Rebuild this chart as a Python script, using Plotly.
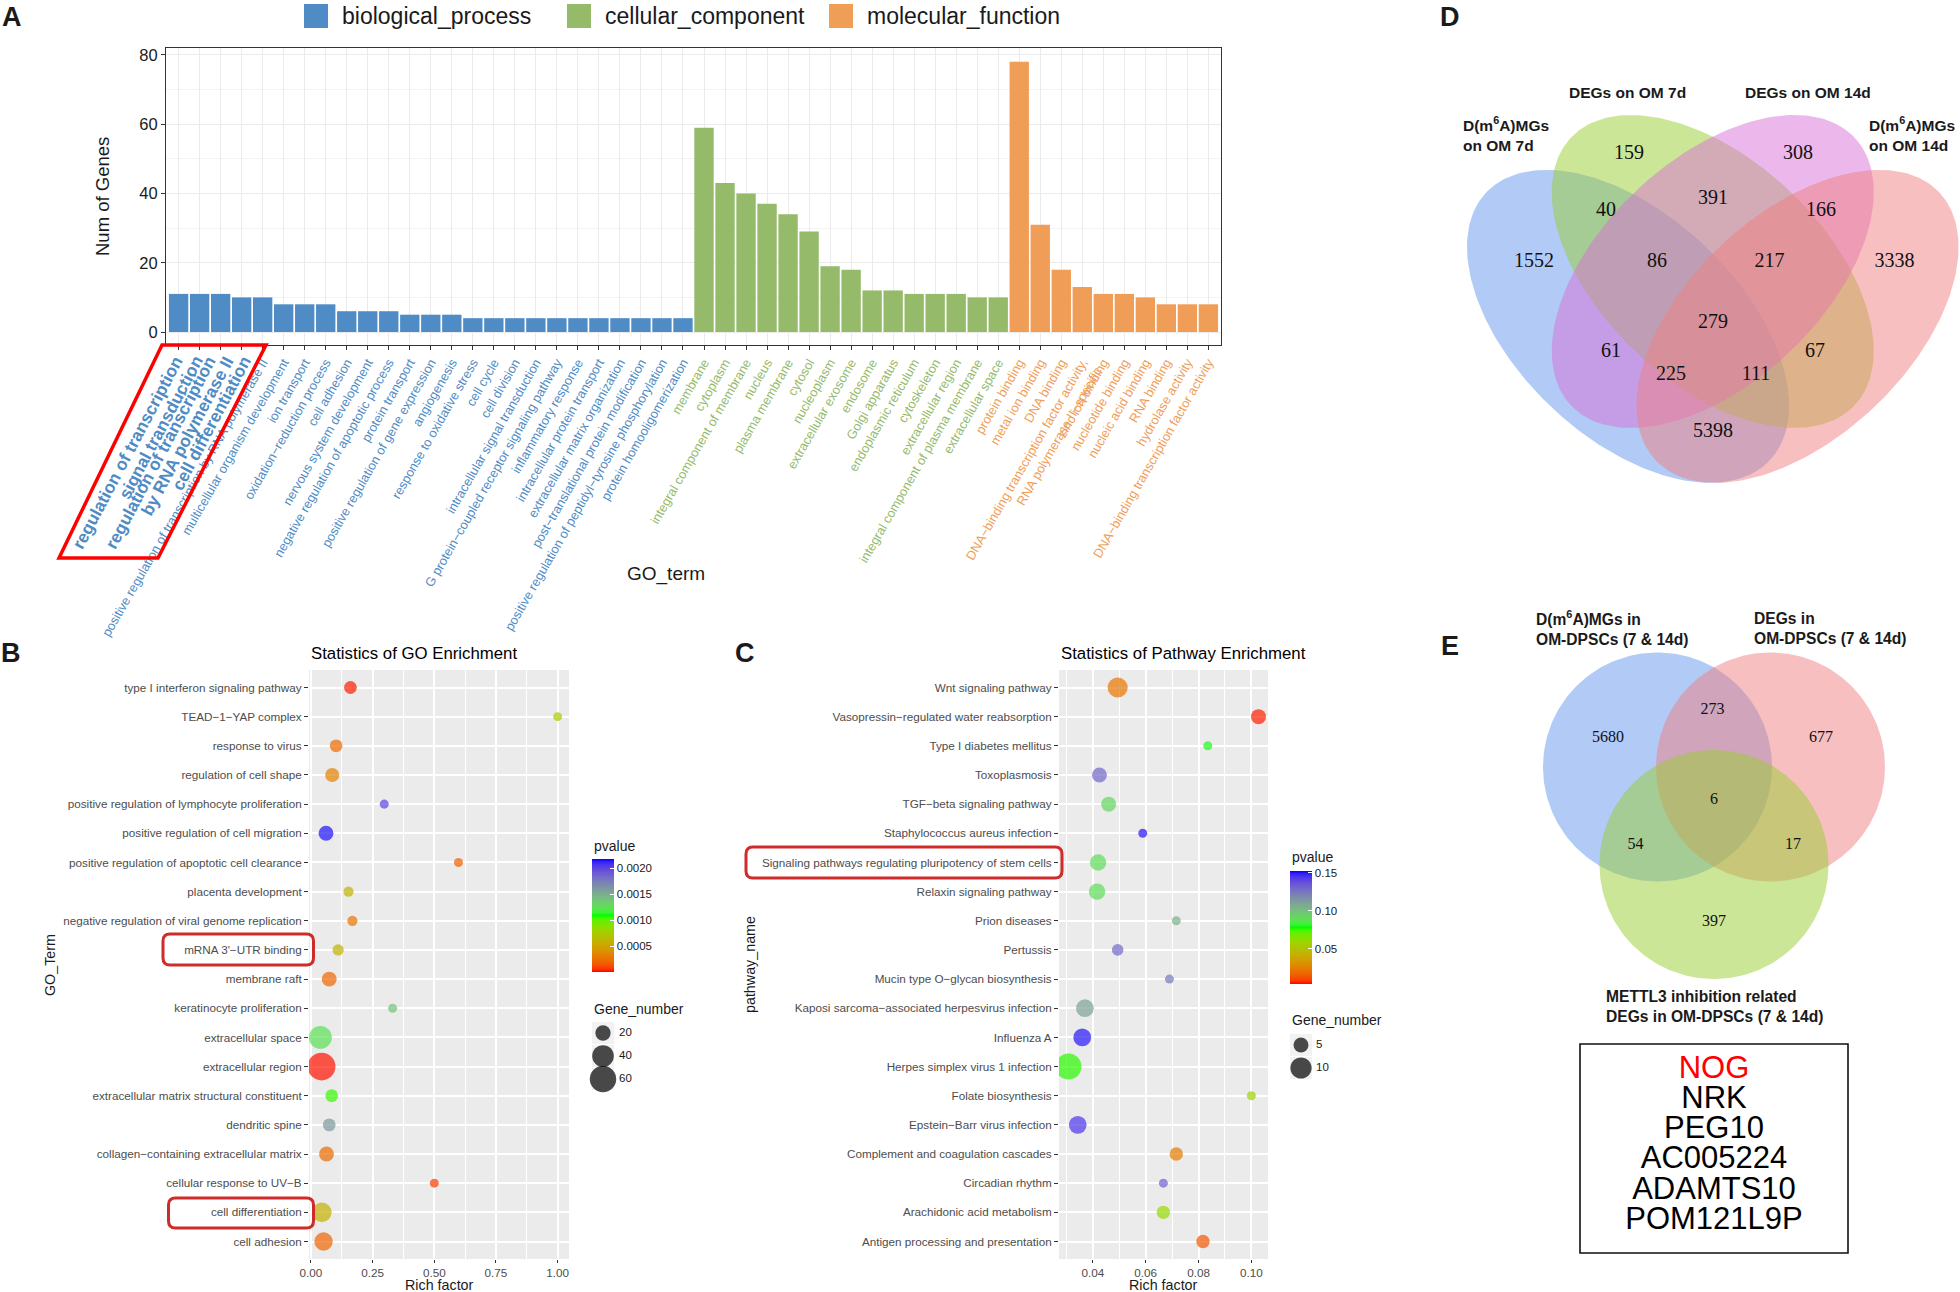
import numpy as np
import plotly.graph_objects as go

W, H = 1960, 1292
FONT = "Liberation Sans, Arial, Helvetica, sans-serif"
SERIF = "Liberation Serif, Times New Roman, serif"

# ---------------- Panel A : GO classification ----------------
ontologies = ["biological_process", "cellular_component", "molecular_function"]
ontology_colors = ["#4F8BC4", "#94BA6A", "#F09D57"]

bp_terms = [
    "regulation of transcription", "signal transduction",
    "regulation of transcription by RNA polymerase II", "cell differentiation",
    "positive regulation of transcription by RNA polymerase II",
    "multicellular organism development", "ion transport", "oxidation−reduction process",
    "cell adhesion", "nervous system development", "negative regulation of apoptotic process",
    "protein transport", "positive regulation of gene expression", "angiogenesis",
    "response to oxidative stress", "cell cycle", "cell division",
    "intracellular signal transduction", "G protein−coupled receptor signaling pathway",
    "inflammatory response", "intracellular protein transport",
    "extracellular matrix organization", "post−translational protein modification",
    "positive regulation of peptidyl−tyrosine phosphorylation", "protein homooligomerization"]
bp_counts = [11, 11, 11, 10, 10, 8, 8, 8, 6, 6, 6, 5, 5, 5, 4, 4, 4, 4, 4, 4, 4, 4, 4, 4, 4]

cc_terms = [
    "membrane", "cytoplasm", "integral component of membrane", "nucleus", "plasma membrane",
    "cytosol", "nucleoplasm", "extracellular exosome", "endosome", "Golgi apparatus",
    "endoplasmic reticulum", "cytoskeleton", "extracellular region",
    "integral component of plasma membrane", "extracellular space"]
cc_counts = [59, 43, 40, 37, 34, 29, 19, 18, 12, 12, 11, 11, 11, 10, 10]

mf_terms = [
    "protein binding", "metal ion binding", "DNA binding",
    "DNA−binding transcription factor activity, RNA polymerase II−specific",
    "zinc ion binding", "nucleotide binding", "nucleic acid binding", "RNA binding",
    "hydrolase activity", "DNA−binding transcription factor activity"]
mf_counts = [78, 31, 18, 13, 11, 11, 10, 8, 8, 8]

highlighted_terms = ["regulation of transcription", "signal transduction",
                     "regulation of transcription by RNA polymerase II", "cell differentiation"]
wrapped_labels = {
    "regulation of transcription by RNA polymerase II":
        ["regulation of transcription", "by RNA polymerase II"],
    "DNA−binding transcription factor activity, RNA polymerase II−specific":
        ["DNA−binding transcription factor activity,", "RNA polymerase II−specific"],
}

# ---------------- Panel B : GO enrichment ----------------
go_terms = [
    "type I interferon signaling pathway", "TEAD−1−YAP complex", "response to virus",
    "regulation of cell shape", "positive regulation of lymphocyte proliferation",
    "positive regulation of cell migration", "positive regulation of apoptotic cell clearance",
    "placenta development", "negative regulation of viral genome replication",
    "mRNA 3'−UTR binding", "membrane raft", "keratinocyte proliferation",
    "extracellular space", "extracellular region", "extracellular matrix structural constituent",
    "dendritic spine", "collagen−containing extracellular matrix", "cellular response to UV−B",
    "cell differentiation", "cell adhesion"]
go_rich = [0.160, 1.000, 0.102, 0.086, 0.297, 0.061, 0.598, 0.152, 0.168, 0.110,
           0.074, 0.331, 0.038, 0.043, 0.084, 0.074, 0.063, 0.500, 0.044, 0.051]
go_genes = [14, 2, 14, 17, 7, 19, 5, 9, 9, 11, 19, 5, 45, 66, 14, 14, 19, 5, 33, 29]
go_pvalue = [0.00003, 0.00075, 0.00022, 0.00032, 0.00200, 0.00215, 0.00018, 0.00060,
             0.00026, 0.00060, 0.00020, 0.00140, 0.00125, 0.00002, 0.00105, 0.00160,
             0.00022, 0.00008, 0.00058, 0.00020]
go_highlight = ["mRNA 3'−UTR binding", "cell differentiation"]

# ---------------- Panel C : pathway enrichment ----------------
kegg_terms = [
    "Wnt signaling pathway", "Vasopressin−regulated water reabsorption",
    "Type I diabetes mellitus", "Toxoplasmosis", "TGF−beta signaling pathway",
    "Staphylococcus aureus infection", "Signaling pathways regulating pluripotency of stem cells",
    "Relaxin signaling pathway", "Prion diseases", "Pertussis",
    "Mucin type O−glycan biosynthesis", "Kaposi sarcoma−associated herpesvirus infection",
    "Influenza A", "Herpes simplex virus 1 infection", "Folate biosynthesis",
    "Epstein−Barr virus infection", "Complement and coagulation cascades",
    "Circadian rhythm", "Arachidonic acid metabolism", "Antigen processing and presentation"]
kegg_rich = [0.0494, 0.1027, 0.0835, 0.0425, 0.0460, 0.0589, 0.0420, 0.0416, 0.0716, 0.0494,
             0.0690, 0.0370, 0.0360, 0.0308, 0.1000, 0.0343, 0.0716, 0.0667, 0.0667, 0.0817]
kegg_genes = [9, 5, 1, 5, 5, 1, 6, 6, 1, 3, 1, 7, 7, 15, 1, 7, 4, 1, 4, 4]
kegg_pvalue = [0.022, 0.006, 0.080, 0.130, 0.092, 0.150, 0.090, 0.090, 0.105, 0.130,
               0.125, 0.110, 0.150, 0.076, 0.058, 0.145, 0.024, 0.132, 0.060, 0.014]
kegg_highlight = ["Signaling pathways regulating pluripotency of stem cells"]

# ---------------- Panel D : 4-set Venn ----------------
venn4_sets = ["D(m<sup>6</sup>A)MGs<br>on OM 7d", "DEGs on OM 7d", "DEGs on OM 14d",
              "D(m<sup>6</sup>A)MGs<br>on OM 14d"]
venn4_counts = [1552, 159, 308, 3338, 40, 391, 166, 86, 217, 279, 61, 67, 225, 111, 5398]

# ---------------- Panel E : 3-set Venn + gene list ----------------
venn3_sets = ["D(m<sup>6</sup>A)MGs in<br>OM-DPSCs (7 & 14d)", "DEGs in<br>OM-DPSCs (7 & 14d)",
              "METTL3 inhibition related<br>DEGs in OM-DPSCs (7 & 14d)"]
venn3_counts = [5680, 273, 677, 6, 54, 17, 397]
common_genes = ["NOG", "NRK", "PEG10", "AC005224", "ADAMTS10", "POM121L9P"]
key_gene = "NOG"

# ======================= layout geometry (pixels) =======================
A_BOX = (166, 48, 1221, 345)          # x0, y0, x1, y1
B_BOX = (309, 670, 569, 1259)
C_BOX = (1059, 670, 1268, 1259)
bold_line_anchor_x = [190, 209, 223, 240, 258]   # end points of the emphasised (bold) label lines
bold_line_top = 350

venn4_fill = ["rgba(100,149,237,0.5)", "rgba(154,205,50,0.5)",
              "rgba(218,112,214,0.5)", "rgba(240,128,128,0.5)"]
venn4_geom = [((0.35, 0.47), -45), ((0.50, 0.57), -45), ((0.50, 0.57), 45), ((0.65, 0.47), 45)]
venn4_label_pos = [(1534, 262), (1629, 154), (1798, 154), (1894.5, 262), (1606, 211),
                   (1713, 199), (1821, 211), (1657, 262), (1769.5, 262), (1713, 323),
                   (1611, 352), (1815, 352), (1671, 375), (1756, 375), (1713, 432)]
venn4_set_pos = [(1461, 134, "left"), (1627, 92, "center"), (1808, 92, "center"), (1957, 134, "right")]

venn3_fill = ["rgba(100,149,237,0.5)", "rgba(240,128,128,0.5)", "rgba(154,205,50,0.5)"]
venn3_centers = [(1657.5, 767), (1770.5, 767), (1714, 864.5)]
venn3_r = 114.5
venn3_label_pos = [(1608, 738), (1712.5, 709.5), (1821, 738), (1714, 800),
                   (1635.5, 845), (1793, 845), (1714, 922)]
venn3_set_pos = [(1534, 628), (1752, 628), (1604, 1006)]
gene_y = [1070, 1100, 1130, 1160, 1191, 1221]


def dx(x0, x1):
    return [x0 / W, x1 / W]


def dy(y0, y1):
    return [1 - y1 / H, 1 - y0 / H]


def to_lab(rgb):
    c = np.array(rgb, dtype=float) / 255
    lin = np.where(c <= 0.04045, c / 12.92, ((c + 0.055) / 1.055) ** 2.4)
    M = np.array([[0.4124564, 0.3575761, 0.1804375],
                  [0.2126729, 0.7151522, 0.0721750],
                  [0.0193339, 0.1191920, 0.9503041]])
    xyz = M @ lin / np.array([0.95047, 1.0, 1.08883])
    f = np.where(xyz > 0.008856, np.cbrt(xyz), 7.787 * xyz + 16 / 116)
    return np.array([116 * f[1] - 16, 500 * (f[0] - f[1]), 200 * (f[1] - f[2])])


def from_lab(lab):
    L, a, b = lab
    fy = (L + 16) / 116
    fx = fy + a / 500
    fz = fy - b / 200
    f = np.array([fx, fy, fz])
    xyz = np.where(f ** 3 > 0.008856, f ** 3, (f - 16 / 116) / 7.787) * np.array([0.95047, 1.0, 1.08883])
    Mi = np.array([[3.2404542, -1.5371385, -0.4985314],
                   [-0.9692660, 1.8760108, 0.0415560],
                   [0.0556434, -0.2040259, 1.0572252]])
    lin = np.clip(Mi @ xyz, 0, 1)
    c = np.where(lin <= 0.0031308, 12.92 * lin, 1.055 * lin ** (1 / 2.4) - 0.055)
    return tuple(int(round(v)) for v in np.clip(c, 0, 1) * 255)


def lab_ramp(anchors, n=41):
    labs = [to_lab(a) for a in anchors]
    out = []
    for s in np.linspace(0, 1, n):
        seg = min(int(s * (len(labs) - 1)), len(labs) - 2)
        t = s * (len(labs) - 1) - seg
        r, g, b = from_lab(labs[seg] * (1 - t) + labs[seg + 1] * t)
        out.append([float(s), f"rgb({r},{g},{b})"])
    return out


PSCALE = lab_ramp([(255, 0, 0), (0, 255, 0), (0, 0, 255)])

fig = go.Figure()

# ---------------- Panel A traces ----------------
term_groups = [bp_terms, cc_terms, mf_terms]
count_groups = [bp_counts, cc_counts, mf_counts]
for name, col, terms, counts in zip(ontologies, ontology_colors, term_groups, count_groups):
    fig.add_trace(go.Bar(x=terms, y=counts, name=name, marker=dict(color=col, line=dict(width=0)),
                         xaxis="x", yaxis="y", showlegend=False, hoverinfo="x+y"))

all_terms = bp_terms + cc_terms + mf_terms
ticktext = []
bold_lines = []
for terms, col in zip(term_groups, ontology_colors):
    for t in terms:
        lines = wrapped_labels.get(t, [t])
        if t in highlighted_terms:
            ticktext.append("")            # drawn as emphasised annotations below
            bold_lines.extend((l, col) for l in lines)
        else:
            ticktext.append("<br>".join(f"<span style='color:{col}'>{l}</span>" for l in lines))

# ---------------- Panel B / C traces ----------------
B_SIZEREF = 0.171
C_SIZEREF = 0.0444
fig.add_trace(go.Scatter(
    x=go_rich, y=go_terms, mode="markers", xaxis="x2", yaxis="y2", showlegend=False,
    marker=dict(size=go_genes, sizemode="area", sizeref=B_SIZEREF, sizemin=4.5,
                color=go_pvalue, colorscale=PSCALE, cmin=0.0, cmax=0.00218, line=dict(width=0),
                colorbar=dict(x=592 / W, xanchor="left", y=1 - 859 / H, yanchor="top",
                              len=113, lenmode="pixels", thickness=22, outlinewidth=0,
                              xpad=0, ypad=0, ticks="inside", tickcolor="white", ticklen=4,
                              tickvals=[0.0005, 0.0010, 0.0015, 0.0020],
                              ticktext=["0.0005", "0.0010", "0.0015", "0.0020"],
                              tickfont=dict(size=11.5, color="#1a1a1a", family=FONT)))))

fig.add_trace(go.Scatter(
    x=kegg_rich, y=kegg_terms, mode="markers", xaxis="x3", yaxis="y3", showlegend=False,
    marker=dict(size=kegg_genes, sizemode="area", sizeref=C_SIZEREF, sizemin=4.5,
                color=kegg_pvalue, colorscale=PSCALE, cmin=0.0037, cmax=0.1526, line=dict(width=0),
                colorbar=dict(x=1290 / W, xanchor="left", y=1 - 871 / H, yanchor="top",
                              len=113, lenmode="pixels", thickness=22, outlinewidth=0,
                              xpad=0, ypad=0, ticks="inside", tickcolor="white", ticklen=4,
                              tickvals=[0.05, 0.10, 0.15], ticktext=["0.05", "0.10", "0.15"],
                              tickfont=dict(size=11.5, color="#1a1a1a", family=FONT)))))

# size legends (legend break values)
b_breaks = [20, 40, 60]
b_key_y = [1033, 1056, 1079]
c_breaks = [5, 10]
c_key_y = [1045, 1068]
fig.add_trace(go.Scatter(x=[603] * 3, y=b_key_y, mode="markers", xaxis="x6", yaxis="y6",
                         showlegend=False, hoverinfo="skip",
                         marker=dict(size=b_breaks, sizemode="area", sizeref=B_SIZEREF,
                                     color="black", line=dict(width=0))))
fig.add_trace(go.Scatter(x=[619] * 3, y=b_key_y, mode="text", text=[str(v) for v in b_breaks],
                         textposition="middle right", xaxis="x6", yaxis="y6", showlegend=False,
                         textfont=dict(size=11.5, color="#1a1a1a", family=FONT), hoverinfo="skip"))
fig.add_trace(go.Scatter(x=[1301] * 2, y=c_key_y, mode="markers", xaxis="x7", yaxis="y7",
                         showlegend=False, hoverinfo="skip",
                         marker=dict(size=c_breaks, sizemode="area", sizeref=C_SIZEREF,
                                     color="black", line=dict(width=0))))
fig.add_trace(go.Scatter(x=[1316] * 2, y=c_key_y, mode="text", text=[str(v) for v in c_breaks],
                         textposition="middle right", xaxis="x7", yaxis="y7", showlegend=False,
                         textfont=dict(size=11.5, color="#1a1a1a", family=FONT), hoverinfo="skip"))

# ---------------- Panel D : ellipses ----------------
def quad_to_px(ux, uy):
    return 1467 + (ux - 0.065) * 565, 115 + (0.855 - uy) * 549


phi = np.linspace(0, 2 * np.pi, 240)
for (c, ang), fill in zip(venn4_geom, venn4_fill):
    th = np.deg2rad(ang)
    ex = 0.35 * np.cos(phi)
    ey = 0.20 * np.sin(phi)
    ux = c[0] + ex * np.cos(th) - ey * np.sin(th)
    uy = c[1] + ex * np.sin(th) + ey * np.cos(th)
    px, py = quad_to_px(ux, uy)
    fig.add_trace(go.Scatter(x=px, y=py, mode="lines", fill="toself", fillcolor=fill,
                             line=dict(width=0), xaxis="x4", yaxis="y4", showlegend=False,
                             hoverinfo="skip"))
fig.add_trace(go.Scatter(x=[p[0] for p in venn4_label_pos], y=[p[1] for p in venn4_label_pos],
                         text=[str(v) for v in venn4_counts], mode="text", xaxis="x4", yaxis="y4",
                         showlegend=False, textfont=dict(family=SERIF, size=20, color="#111111")))

# ---------------- Panel E : circles ----------------
for (cx, cy), fill in zip(venn3_centers, venn3_fill):
    fig.add_trace(go.Scatter(x=cx + venn3_r * np.cos(phi), y=cy + venn3_r * np.sin(phi),
                             mode="lines", fill="toself", fillcolor=fill, line=dict(width=0),
                             xaxis="x5", yaxis="y5", showlegend=False, hoverinfo="skip"))
fig.add_trace(go.Scatter(x=[p[0] for p in venn3_label_pos], y=[p[1] for p in venn3_label_pos],
                         text=[str(v) for v in venn3_counts], mode="text", xaxis="x5", yaxis="y5",
                         showlegend=False, textfont=dict(family=SERIF, size=16, color="#111111")))
fig.add_trace(go.Scatter(x=[1714] * len(common_genes), y=gene_y, text=common_genes, mode="text",
                         xaxis="x5", yaxis="y5", showlegend=False,
                         textfont=dict(family=FONT, size=31,
                                       color=["#FF0000" if g == key_gene else "#000000"
                                              for g in common_genes])))

# ======================= axes =======================
hidden = dict(visible=False, showgrid=False, zeroline=False, fixedrange=True)


def pix_axes(n, x0, x1, y0, y1):
    return {
        f"xaxis{n}": dict(domain=dx(x0, x1), range=[x0, x1], anchor=f"y{n}", **hidden),
        f"yaxis{n}": dict(domain=dy(y0, y1), range=[y1, y0], anchor=f"x{n}", **hidden),
    }


tick_common = dict(ticks="outside", ticklen=4, tickwidth=1, tickcolor="#333333", zeroline=False)
tick_small = dict(ticks="outside", ticklen=3, tickwidth=1, tickcolor="#333333", zeroline=False)

layout = dict(
    width=W, height=H, template="none", margin=dict(l=0, r=0, t=0, b=0, pad=0),
    paper_bgcolor="white", plot_bgcolor="rgba(0,0,0,0)", showlegend=False,
    font=dict(family=FONT, color="#1a1a1a"), barmode="overlay", bargap=0.08,
    xaxis=dict(domain=dx(A_BOX[0], A_BOX[2]), anchor="y", type="category",
               categoryorder="array", categoryarray=all_terms, tickvals=all_terms, ticktext=ticktext,
               tickangle=-60, tickfont=dict(size=12.8), range=[-0.6, len(all_terms) - 0.4],
               showline=True, mirror=True, linecolor="#333333", linewidth=1.2,
               showgrid=True, gridcolor="#EBEBEB", gridwidth=1.2, automargin=False, **tick_common),
    yaxis=dict(domain=dy(A_BOX[1], A_BOX[3]), anchor="x", range=[-3.75, 82.0],
               tickvals=[0, 20, 40, 60, 80], tickfont=dict(size=16.5, color="#1a1a1a"),
               showline=True, mirror=True, linecolor="#333333", linewidth=1.2,
               showgrid=True, gridcolor="#EBEBEB", gridwidth=1.2,
               minor=dict(tick0=0, dtick=10, showgrid=True, gridcolor="#F3F3F3", gridwidth=0.8),
               automargin=False, **tick_common),
    xaxis2=dict(domain=dx(B_BOX[0], B_BOX[2]), anchor="y2", range=[-0.008, 1.046],
                tickvals=[0, 0.25, 0.5, 0.75, 1.0], ticktext=["0.00", "0.25", "0.50", "0.75", "1.00"],
                tickfont=dict(size=11.7, color="#4D4D4D"), showgrid=True, gridcolor="white",
                gridwidth=1.6, showline=False,
                minor=dict(tick0=0.125, dtick=0.25, showgrid=True, gridcolor="white", gridwidth=0.7),
                automargin=False, **tick_small),
    yaxis2=dict(domain=dy(B_BOX[1], B_BOX[3]), anchor="x2", type="category",
                categoryorder="array", categoryarray=list(reversed(go_terms)),
                range=[-0.6, len(go_terms) - 0.4], tickfont=dict(size=11.7, color="#4D4D4D"),
                showgrid=True, gridcolor="white", gridwidth=1.6, showline=False,
                automargin=False, **tick_common),
    xaxis3=dict(domain=dx(C_BOX[0], C_BOX[2]), anchor="y3", range=[0.0272, 0.1063],
                tickvals=[0.04, 0.06, 0.08, 0.10], ticktext=["0.04", "0.06", "0.08", "0.10"],
                tickfont=dict(size=11.7, color="#4D4D4D"), showgrid=True, gridcolor="white",
                gridwidth=1.6, showline=False,
                minor=dict(tick0=0.03, dtick=0.02, showgrid=True, gridcolor="white", gridwidth=0.7),
                automargin=False, **tick_small),
    yaxis3=dict(domain=dy(C_BOX[1], C_BOX[3]), anchor="x3", type="category",
                categoryorder="array", categoryarray=list(reversed(kegg_terms)),
                range=[-0.6, len(kegg_terms) - 0.4], tickfont=dict(size=11.7, color="#4D4D4D"),
                showgrid=True, gridcolor="white", gridwidth=1.6, showline=False,
                automargin=False, **tick_common),
)
layout.update(pix_axes(4, 1430, 1960, 60, 500))
layout.update(pix_axes(5, 1500, 1960, 590, 1292))
layout.update(pix_axes(6, 570, 700, 1015, 1095))
layout.update(pix_axes(7, 1280, 1400, 1025, 1090))
layout.update(pix_axes(8, 0, W, 0, H))
fig.update_layout(**layout)

# ======================= shapes & annotations =======================
shapes = []
ann = []


def txt(x, y, text, size, xanchor="center", yanchor="middle", color="#1a1a1a", angle=0,
        family=FONT, align="center"):
    ann.append(dict(x=x, y=y, xref="x8", yref="y8", text=text, showarrow=False,
                    xanchor=xanchor, yanchor=yanchor, textangle=angle, align=align,
                    font=dict(size=size, color=color, family=family)))


# emphasised GO terms on panel A (bold, larger, evenly spaced lines)
for (line, col), ax in zip(bold_lines, bold_line_anchor_x):
    txt(ax, bold_line_top, f"<b>{line}</b>", 17.3, xanchor="right", yanchor="top", color=col,
        angle=-62)

# panel grey backgrounds for B, C
for n in (2, 3):
    shapes.append(dict(type="rect", xref=f"x{n} domain", yref=f"y{n} domain", x0=0, x1=1, y0=0, y1=1,
                       fillcolor="#EBEBEB", line=dict(width=0), layer="below"))

# size-legend key backgrounds (drawn in the legend's own axes, under the key markers)
for ky in b_key_y:
    shapes.append(dict(type="rect", xref="x6", yref="y6", x0=592, x1=614, y0=ky - 11, y1=ky + 11,
                       fillcolor="#F2F2F2", line=dict(width=0), layer="below"))
for ky in c_key_y:
    shapes.append(dict(type="rect", xref="x7", yref="y7", x0=1290, x1=1312, y0=ky - 11, y1=ky + 11,
                       fillcolor="#F2F2F2", line=dict(width=0), layer="below"))

# Panel A legend (custom squares)
leg_x = [304, 567, 829]
for lx, name, col in zip(leg_x, ontologies, ontology_colors):
    shapes.append(dict(type="rect", xref="x8", yref="y8", x0=lx, x1=lx + 24, y0=4, y1=28,
                       fillcolor=col, line=dict(width=0)))
    txt(lx + 36, 16, name, 23, xanchor="left")

# panel letters
for L, x, y in [("A", 12, 17), ("B", 11, 653), ("C", 745, 653), ("D", 1450, 17), ("E", 1450, 646)]:
    txt(x, y, f"<b>{L}</b>", 27)

# axis titles
txt(102, 197, "Num of Genes", 18.5, angle=-90)
txt(666, 574, "GO_term", 19)
txt(B_BOX[0], 653, "Statistics of GO Enrichment", 16.8, xanchor="left", color="#000000")
txt(C_BOX[0], 653, "Statistics of Pathway Enrichment", 16.8, xanchor="left", color="#000000")
txt(50, 965, "GO_Term", 14.3, angle=-90)
txt(750, 965, "pathway_name", 14.3, angle=-90)
txt((B_BOX[0] + B_BOX[2]) / 2, 1285, "Rich factor", 14.3)
txt((C_BOX[0] + C_BOX[2]) / 2, 1285, "Rich factor", 14.3)

# legend titles
txt(592, 846, "pvalue", 14, xanchor="left")
txt(592, 1009, "Gene_number", 14, xanchor="left")
txt(1290, 857, "pvalue", 14, xanchor="left")
txt(1290, 1020, "Gene_number", 14, xanchor="left")


# highlight boxes
def rrect(x0, y0, x1, y1, r):
    return (f"M{x0 + r},{y0} L{x1 - r},{y0} Q{x1},{y0} {x1},{y0 + r} L{x1},{y1 - r} "
            f"Q{x1},{y1} {x1 - r},{y1} L{x0 + r},{y1} Q{x0},{y1} {x0},{y1 - r} "
            f"L{x0},{y0 + r} Q{x0},{y0} {x0 + r},{y0} Z")


for (x0, y0, x1, y1) in [(163, 934, 313.5, 965), (168.5, 1198, 313.5, 1228), (746, 847, 1062, 878)]:
    shapes.append(dict(type="path", xref="x8", yref="y8", path=rrect(x0, y0, x1, y1, 7),
                       line=dict(color="#D02B2B", width=3), layer="above"))
shapes.append(dict(type="path", xref="x8", yref="y8", path="M162,345 L266,345 L158,558 L59,558 Z",
                   line=dict(color="#FF0000", width=3.5), layer="above"))

# Venn set labels
for (x, y, anc), s in zip(venn4_set_pos, venn4_sets):
    txt(x, y, f"<b>{s}</b>", 15.5, xanchor=anc, align="left")
for (x, y), s in zip(venn3_set_pos, venn3_sets):
    txt(x, y, f"<b>{s}</b>", 15.6, xanchor="left", align="left")

# gene box
shapes.append(dict(type="rect", xref="x8", yref="y8", x0=1580, x1=1848, y0=1044, y1=1253,
                   line=dict(color="#111111", width=1.6), fillcolor="rgba(0,0,0,0)", layer="above"))

fig.update_layout(shapes=shapes, annotations=ann)

fig.write_html("out.html", config={"displayModeBar": False},
               post_script="document.body.style.margin='0';")
